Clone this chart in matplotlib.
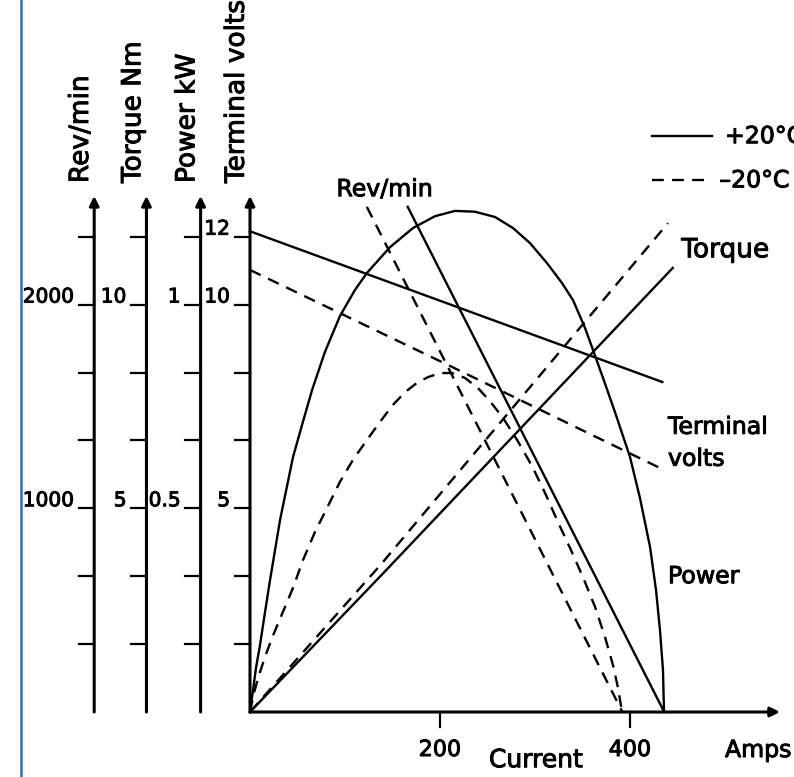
import matplotlib
matplotlib.use("Agg")
import matplotlib.pyplot as plt
import matplotlib.patheffects as pe

# current in amps, readings taken off the scanned chart
amps_volts_hot = [0, 434]
volts_hot = [11.8, 8.1]
amps_volts_cold = [0, 210, 435]
volts_cold = [10.85, 8.5, 5.95]

amps_rev_hot = [166, 436]
rev_hot = [2480, 0]
amps_rev_cold = [123, 392]
rev_cold = [2480, 0]

amps_torque_hot = [0, 140, 445]
torque_hot = [0, 3.4, 10.9]
amps_torque_cold = [0, 137, 440]
torque_cold = [0, 3.6, 12.0]

amps_power_hot = [0, 3.2, 6.3, 10.5, 15.8, 21.1, 31.6, 45.3, 54.7, 65.3, 78.9, 94.7,
                  110.5, 123.2, 147.4, 171.6, 194.7, 215.8, 236.8, 257.9, 276.8, 294.7,
                  312.6, 328.4, 340, 352.6, 361, 371.6, 384.2, 400, 410.5, 421.1, 427.4,
                  431.6, 434.7, 435.8]
power_hot = [0, 0.054, 0.108, 0.164, 0.245, 0.324, 0.471, 0.626, 0.704, 0.79, 0.884, 0.972,
             1.036, 1.078, 1.141, 1.188, 1.217, 1.23, 1.228, 1.215, 1.188, 1.151,
             1.102, 1.053, 1.011, 0.943, 0.889, 0.82, 0.736, 0.626, 0.525, 0.405, 0.299,
             0.2, 0.103, 0]
amps_power_cold = [0, 4.2, 9.5, 15.8, 23.2, 34.7, 45.3, 55.8, 68.4, 81.1, 94.7, 108.4,
                   123.2, 136.8, 150.5, 163.2, 175.8, 187.4, 200, 212.6, 226.3, 240,
                   252.6, 266.3, 281.1, 296.8, 310.5, 324.2, 336.8, 350.5, 363.2, 373.7,
                   382.1, 387.4, 391.6]
power_cold = [0, 0.047, 0.091, 0.135, 0.182, 0.246, 0.305, 0.373, 0.442, 0.501, 0.565, 0.619,
              0.668, 0.712, 0.754, 0.785, 0.808, 0.822, 0.832, 0.832, 0.82, 0.795,
              0.763, 0.722, 0.668, 0.604, 0.538, 0.466, 0.403, 0.331, 0.258, 0.184,
              0.115, 0.059, 0]

x_ticks = [200, 400]
rev_ticks = {6: "2000", 3: "1000"}
torque_ticks = {6: "10", 3: "5"}
power_ticks = {6: "1", 3: "0.5"}
volts_ticks = {7: "12", 6: "10", 3: "5"}

# every quantity is drawn on a common grid, one grid step = one tick
def u_rev(v): return [x * 3 / 1000 for x in v]
def u_torque(v): return [x * 0.6 for x in v]
def u_power(v): return [x * 6 for x in v]
def u_volts(v): return [x * 0.6 for x in v]

sx = 0.95   # px per amp
sy = 67.9   # px per grid step

fig = plt.figure(figsize=(7.94, 7.77), dpi=100)
ax = fig.add_axes([0, 0, 1, 1])
ax.set_xlim(-250 / sx, 544 / sx)
ax.set_ylim(-65 / sy, 712 / sy)
ax.axis("off")

bold = [pe.withStroke(linewidth=0.7, foreground="k")]

def label(x, y, s, **kw):
    ax.text(x, y, s, path_effects=bold, **kw)

lw = 1.7
dash = (0, (5, 3.5))
ax.plot(amps_volts_hot, u_volts(volts_hot), color="k", lw=lw)
ax.plot(amps_volts_cold, u_volts(volts_cold), color="k", lw=lw, ls=dash)
ax.plot(amps_rev_hot, u_rev(rev_hot), color="k", lw=lw)
ax.plot(amps_rev_cold, u_rev(rev_cold), color="k", lw=lw, ls=dash)
ax.plot(amps_torque_hot, u_torque(torque_hot), color="k", lw=lw)
ax.plot(amps_torque_cold, u_torque(torque_cold), color="k", lw=lw, ls=dash)
ax.plot(amps_power_hot, u_power(power_hot), color="k", lw=lw)
ax.plot(amps_power_cold, u_power(power_cold), color="k", lw=lw, ls=dash)

# the four vertical scales
top = 7.6
tick_len = 16
axes_x = [-164, -109, -52, 0]
titles = ["Rev/min", "Torque Nm", "Power kW", "Terminal volts"]
labels = [rev_ticks, torque_ticks, power_ticks, volts_ticks]
for xa, title, lab in zip(axes_x, titles, labels):
    ax.annotate("", xy=(xa, top), xytext=(xa, 0),
                arrowprops=dict(arrowstyle="-|>", lw=2.2, color="k", mutation_scale=14,
                                shrinkA=0, shrinkB=0))
    for k in range(1, 8):
        ax.plot([xa - tick_len, xa], [k, k], color="k", lw=1.6)
    for k, t in lab.items():
        label(xa - tick_len - 5, k + 0.03, t, ha="right", va="baseline", fontsize=14.5)
    label(xa - 6.5, 7.79, title, rotation=90, rotation_mode="anchor",
          ha="left", va="baseline", fontsize=19)

# current axis
ax.annotate("", xy=(530 / sx, 0), xytext=(0, 0),
            arrowprops=dict(arrowstyle="-|>", lw=2.2, color="k", mutation_scale=14,
                            shrinkA=0, shrinkB=0))
for t in x_ticks:
    ax.plot([t, t], [0, -0.22], color="k", lw=1.6)
    label(t, -0.56, str(t), ha="center", va="center", fontsize=16)
label(301, -0.71, "Current", ha="center", va="center", fontsize=18)
label(500, -0.56, "Amps", ha="left", va="center", fontsize=17)

# curve labels
label(91, 7.7, "Rev/min", ha="left", va="center", fontsize=17)
label(454, 6.8, "Torque", ha="left", va="center", fontsize=19)
label(440, 4.2, "Terminal", ha="left", va="center", fontsize=17)
label(440, 3.73, "volts", ha="left", va="center", fontsize=17)
label(440, 2.0, "Power", ha="left", va="center", fontsize=17)

# legend
ax.plot([423, 486], [8.48, 8.48], color="k", lw=lw)
label(500, 8.48, "+20°C", ha="left", va="center", fontsize=17)
ax.plot([423, 486], [7.83, 7.83], color="k", lw=lw, ls=dash)
label(494, 7.83, "–20°C", ha="left", va="center", fontsize=17)

# page edge from the scan
ax.axvline(-229 / sx, color="#3a6ea5", lw=1.8)

fig.savefig("out.png", dpi=100)
